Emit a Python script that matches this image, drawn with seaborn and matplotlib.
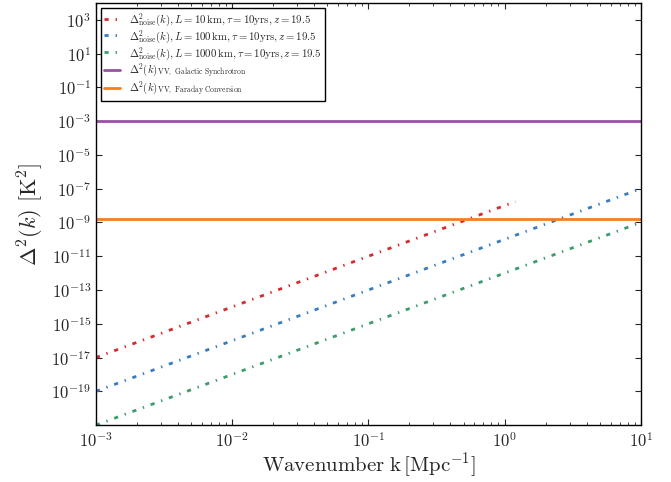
import matplotlib
matplotlib.use("Agg")
import numpy as np
import pandas as pd
import seaborn as sns
from matplotlib import pyplot as plt

# wavenumber samples (Mpc^-1) and noise power per baseline length
k_10km = [1e-3, 1e-2, 1e-1, 1.0, 1.2]
noise_10km = [1e-17, 1e-14, 1e-11, 1e-8, 1.7e-8]
k_100km = [1e-3, 1e-2, 1e-1, 1.0, 10.0]
noise_100km = [1e-19, 1e-16, 1e-13, 1e-10, 1e-7]
k_1000km = [1e-3, 1e-2, 1e-1, 1.0, 10.0]
noise_1000km = [1e-21, 1e-18, 1e-15, 1e-12, 1e-9]

# foreground levels (K^2)
galactic_sync = 1e-3
faraday_conv = 1.5e-9

labels = [
    r"$\Delta^2_{\rm noise}(k), L = 10\,{\rm km}, \tau = 10{\rm yrs}, z = 19.5$",
    r"$\Delta^2_{\rm noise}(k), L = 100\,{\rm km}, \tau = 10{\rm yrs}, z = 19.5$",
    r"$\Delta^2_{\rm noise}(k), L = 1000\,{\rm km}, \tau = 10{\rm yrs}, z = 19.5$",
]
fg_labels = [
    r"$\Delta^2(k)_{\rm VV,\ Galactic\ Synchrotron}$",
    r"$\Delta^2(k)_{\rm VV,\ Faraday\ Conversion}$",
]
colors = ["#d62a2e", "#377ec0", "#3c9c6c", "#9b4fa7", "#f57e20"]

sns.set_style("ticks")
plt.rcParams.update({
    "font.family": "serif",
    "font.serif": ["cmr10", "DejaVu Serif"],
    "mathtext.fontset": "cm",
    "axes.formatter.use_mathtext": True,
    "axes.unicode_minus": False,
    "lines.scale_dashes": False,
    "xtick.direction": "in",
    "ytick.direction": "in",
    "xtick.top": True,
    "ytick.right": True,
    "xtick.major.size": 4,
    "ytick.major.size": 4,
    "xtick.minor.size": 2,
    "ytick.minor.size": 2,
    "axes.edgecolor": "black",
    "axes.linewidth": 1.0,
})

fig = plt.figure(figsize=(6.71, 4.82), dpi=100)
ax = fig.add_axes([0.143, 0.118, 0.812, 0.876])

dashdot = (0, (3, 5, 1, 5))
series = [(k_10km, noise_10km), (k_100km, noise_100km), (k_1000km, noise_1000km)]
for (k, p), lab, c in zip(series, labels, colors[:3]):
    df = pd.DataFrame({"k": k, "p": p})
    sns.lineplot(data=df, x="k", y="p", ax=ax, color=c, lw=2,
                 linestyle=dashdot, label=lab)

ax.axhline(galactic_sync, color=colors[3], lw=2, label=fg_labels[0])
ax.axhline(faraday_conv, color=colors[4], lw=2, label=fg_labels[1])

ax.set_xscale("log")
ax.set_yscale("log")
ax.set_xlim(1e-3, 1e1)
ax.set_ylim(1e-21, 1e4)
ax.set_yticks([10.0 ** e for e in range(-19, 4, 2)])
ax.yaxis.set_minor_locator(matplotlib.ticker.NullLocator())
ax.tick_params(labelsize=12)
ax.tick_params(axis="x", pad=4)

ax.set_xlabel(r"$\mathrm{Wavenumber\ k\,[Mpc^{-1}]}$", fontsize=15, labelpad=1)
ax.set_ylabel(r"$\Delta^2(k)\ [\mathrm{K}^2]$", fontsize=16)

leg = ax.legend(loc="upper left", fontsize=7.8, handlelength=1.5,
                fancybox=False, framealpha=1, edgecolor="black",
                borderaxespad=0.5, labelspacing=0.0, borderpad=0.25)
leg.get_frame().set_linewidth(1.0)

fig.savefig("out.png", dpi=100)
